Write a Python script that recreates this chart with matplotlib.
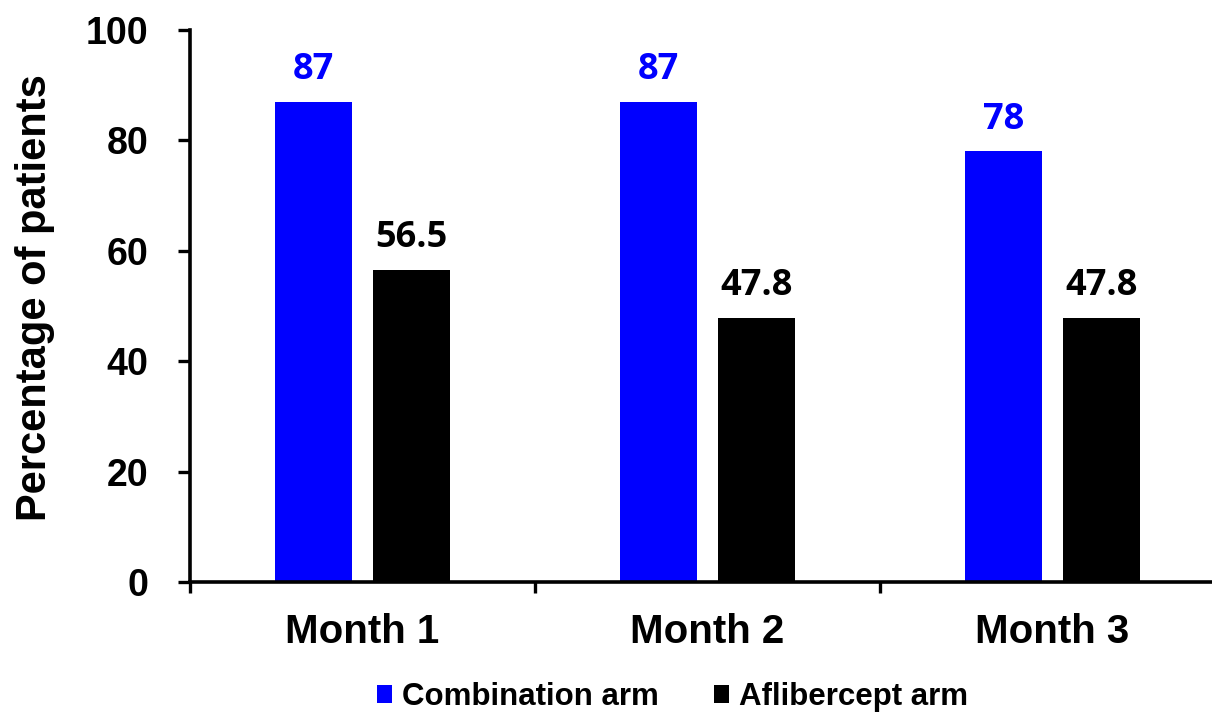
import matplotlib
matplotlib.use("Agg")
import matplotlib.pyplot as plt
import numpy as np
from matplotlib.patches import Patch

# Response rates per visit
MONTHS = ["Month 1", "Month 2", "Month 3"]
COMBINATION = [87, 87, 78]
AFLIBERCEPT = [56.5, 47.8, 47.8]
SERIES_NAMES = ["Combination arm", "Aflibercept arm"]
COLORS = ["#0000FF", "#000000"]

plt.rcParams["font.family"] = "Liberation Sans"
plt.rcParams["font.weight"] = "bold"

fig = plt.figure(figsize=(12.12, 7.13), dpi=100)
ax = fig.add_axes([0.1568, 0.1837, 0.854, 0.7742])

x = np.arange(len(MONTHS))
width = 0.223
offset = 0.142

bars_c = ax.bar(x - offset, COMBINATION, width, color=COLORS[0])
bars_a = ax.bar(x + offset, AFLIBERCEPT, width, color=COLORS[1])

# value labels above the bars
for bars, vals, col in [(bars_c, COMBINATION, COLORS[0]), (bars_a, AFLIBERCEPT, COLORS[1])]:
    for b, v in zip(bars, vals):
        ax.annotate(f"{v:g}", (b.get_x() + b.get_width() / 2, v),
                    xytext=(0, 16.5), textcoords="offset points",
                    ha="center", va="baseline", fontsize=26,
                    family="Open Sans", fontweight="bold", color=col)

ax.set_xlim(-0.5, len(MONTHS) - 0.5)
ax.set_ylim(0, 100)
ax.set_yticks(range(0, 101, 20))
ax.tick_params(axis="y", labelsize=27, length=9, width=2.4, pad=21, direction="out")

# category boundaries get the tick marks, centres get the labels
ax.set_xticks(np.arange(len(MONTHS) + 1) - 0.5)
ax.set_xticklabels([])
ax.set_xticks(x, minor=True)
ax.set_xticklabels(MONTHS, minor=True, fontsize=29, fontweight="bold")
ax.tick_params(axis="x", which="major", length=8, width=2.4, direction="out")
ax.tick_params(axis="x", which="minor", length=0, pad=22.5)

for side in ["top", "right"]:
    ax.spines[side].set_visible(False)
for side in ["left", "bottom"]:
    ax.spines[side].set_linewidth(2.6)

ax.set_ylabel("Percentage of patients", fontsize=30, fontweight="bold", va="center")
ax.yaxis.set_label_coords(-0.15, 0.516)

handles = [Patch(facecolor=c, edgecolor="none") for c in COLORS]
fig.legend(handles, SERIES_NAMES, loc="center", bbox_to_anchor=(0.555, 0.022),
           ncol=2, frameon=False, fontsize=22.5, handlelength=0.5, handleheight=0.5,
           handletextpad=0.32, columnspacing=1.74, borderaxespad=0)

fig.savefig("out.png", dpi=100)
